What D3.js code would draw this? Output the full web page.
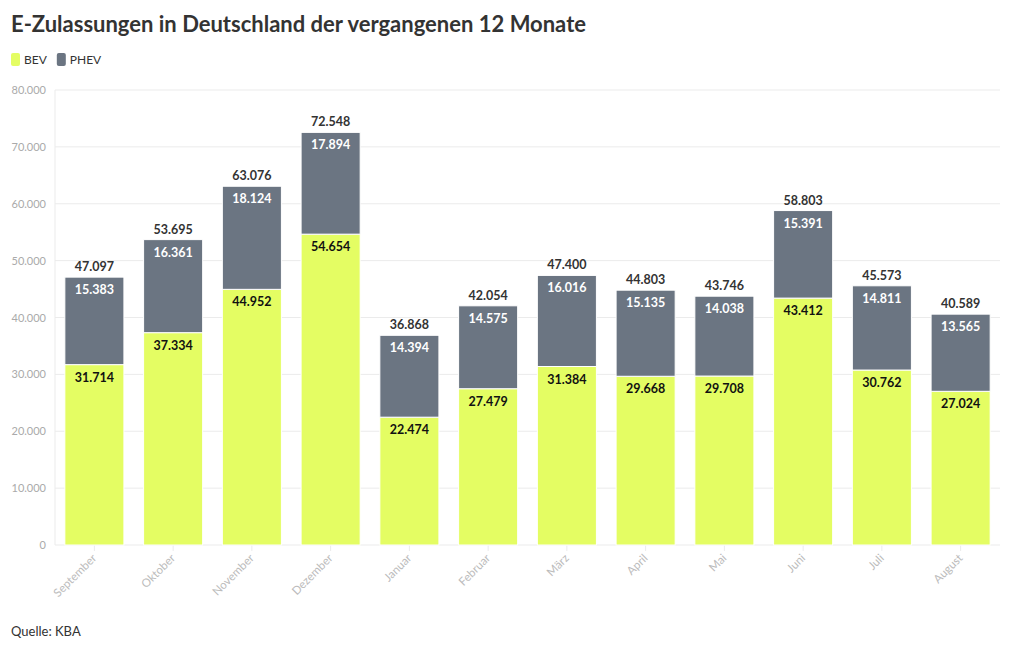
<!DOCTYPE html>
<html><head><meta charset="utf-8">
<script src="https://cdn.jsdelivr.net/npm/d3@7"></script>
<style>
body{margin:0;background:#fff;font-family:Lato,"Noto Sans",sans-serif;}
</style></head>
<body><svg id="c" width="1020" height="650"></svg>
<script>
const months = ["September","Oktober","November","Dezember","Januar","Februar","März","April","Mai","Juni","Juli","August"];
const bev = [31714,37334,44952,54654,22474,27479,31384,29668,29708,43412,30762,27024];
const phev = [15383,16361,18124,17894,14394,14575,16016,15135,14038,15391,14811,13565];
const totals = [47097,53695,63076,72548,36868,42054,47400,44803,43746,58803,45573,40589];
const yTicks = [0,10000,20000,30000,40000,50000,60000,70000,80000];
const seriesNames = ["BEV","PHEV"];
const colors = ["#e4fd63","#6b7582"];

const svg = d3.select("#c");
const fmt = v => d3.format(",")(v).replace(/,/g,".");
const x = d3.scaleBand().domain(months).range([55,1000]).paddingInner(0.25).paddingOuter(0.125);
const y = d3.scaleLinear().domain([0,80000]).range([545,90]);

// grid
svg.append("g").selectAll("line").data(yTicks).join("line")
  .attr("x1",55).attr("x2",1000).attr("y1",d=>y(d)).attr("y2",d=>y(d))
  .attr("stroke","#ebebeb").attr("stroke-width",1);
svg.append("line").attr("x1",55).attr("x2",55).attr("y1",90).attr("y2",545).attr("stroke","#ebebeb");
svg.append("g").selectAll("text").data(yTicks).join("text")
  .attr("x",46).attr("y",d=>y(d)+4).attr("text-anchor","end")
  .attr("font-size",11).attr("fill","#aaa").text(d=>fmt(d));

// x labels
svg.append("g").selectAll("g").data(months).join("g")
  .attr("transform",d=>`translate(${x(d)+x.bandwidth()/2},556)`)
  .call(g=>g.append("line").attr("y1",-11).attr("y2",-5).attr("stroke","#ebebeb"))
  .append("text").attr("transform","rotate(-45)").attr("text-anchor","end")
  .attr("dy","0.35em").attr("font-size",11.5).attr("fill","#bbb").text(d=>d);

const stackData = months.map((m,i)=>({m, BEV:bev[i], PHEV:phev[i]}));
const stacked = d3.stack().keys(seriesNames)(stackData);
const g = svg.append("g");
stacked.forEach((s,si)=>{
  g.append("g").selectAll("rect").data(s).join("rect")
   .attr("x",d=>x(d.data.m)).attr("width",x.bandwidth())
   .attr("y",d=>y(d[1])).attr("height",d=>y(d[0])-y(d[1]))
   .attr("fill",colors[si]).attr("stroke","#fff").attr("stroke-width",1);
  g.append("g").selectAll("text").data(s).join("text")
   .attr("x",d=>x(d.data.m)+x.bandwidth()/2).attr("y",d=>y(d[1])+17)
   .attr("text-anchor","middle").attr("font-size",12.5).attr("font-weight","bold")
   .attr("fill",si===0?"#111":"#fff").text(d=>fmt(d[1]-d[0]));
});
svg.append("g").selectAll("text").data(months).join("text")
  .attr("x",d=>x(d)+x.bandwidth()/2).attr("y",(d,i)=>y(totals[i])-6)
  .attr("text-anchor","middle").attr("font-size",12.5).attr("font-weight","bold")
  .attr("fill","#333").text((d,i)=>fmt(totals[i]));

// title
svg.append("text").attr("x",11).attr("y",32).attr("font-size",22).attr("font-weight","bold")
  .attr("fill","#333").text("E-Zulassungen in Deutschland der vergangenen 12 Monate");
// legend
const lg = svg.append("g").attr("transform","translate(11,53)");
let lx=0;
seriesNames.forEach((n,i)=>{
  lg.append("rect").attr("x",lx).attr("y",0).attr("width",9).attr("height",13).attr("rx",2).attr("fill",colors[i]);
  const t = lg.append("text").attr("x",lx+13).attr("y",11).attr("font-size",12).attr("fill","#333").text(n);
  lx += 13 + t.node().getComputedTextLength() + 10;
});
svg.append("text").attr("x",11).attr("y",636).attr("font-size",13).attr("fill","#333").text("Quelle: KBA");
</script></body></html>
